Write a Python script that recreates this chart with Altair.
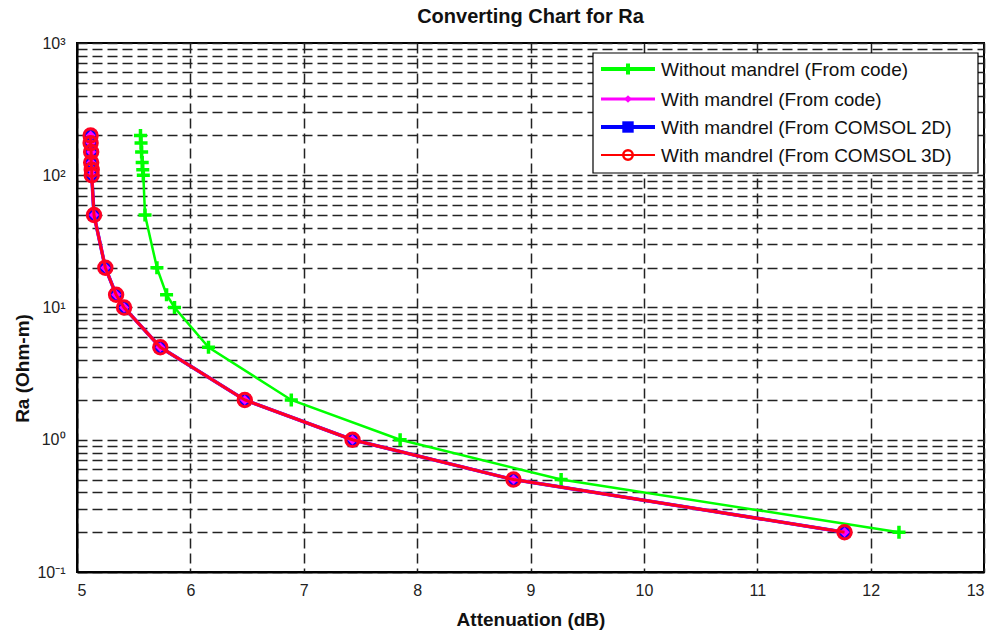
import altair as alt
import pandas as pd

# ---- data ----
ra = [200, 175, 150, 125, 110, 100, 50, 20, 12.5, 10, 5, 2, 1, 0.5, 0.2]
att_without_code = [5.56, 5.565, 5.57, 5.575, 5.58, 5.585, 5.60, 5.705, 5.79, 5.86, 6.16, 6.89, 7.85, 9.27, 12.25]
att_with_code = [5.12, 5.12, 5.125, 5.125, 5.13, 5.13, 5.15, 5.25, 5.345, 5.415, 5.735, 6.48, 7.43, 8.85, 11.77]
att_with_2d = [5.12, 5.12, 5.125, 5.125, 5.13, 5.13, 5.15, 5.25, 5.345, 5.415, 5.735, 6.48, 7.43, 8.85, 11.77]
att_with_3d = [5.12, 5.12, 5.125, 5.125, 5.13, 5.13, 5.15, 5.25, 5.345, 5.415, 5.735, 6.48, 7.43, 8.85, 11.77]

series_names = [
    "Without mandrel (From code)",
    "With mandrel (From code)",
    "With mandrel (From COMSOL 2D)",
    "With mandrel (From COMSOL 3D)",
]
x_ticks = [5, 6, 7, 8, 9, 10, 11, 12, 13]

FONT = "Liberation Sans Narrow, Liberation Sans, Arial"
W, H = 907, 529
PL, PT = 77, 43

grid_vals = sorted({round(m * d, 6) for d in [0.1, 1, 10, 100] for m in range(1, 10)} | {1000})

def frame(att):
    return pd.DataFrame({"att": att, "ra": ra, "idx": list(range(len(ra)))})

xs = alt.X("att:Q", scale=alt.Scale(domain=[5, 13], nice=False, zero=False),
           axis=alt.Axis(values=x_ticks, title="Attenuation (dB)", grid=True, ticks=False,
                         labelPadding=10, titlePadding=12, format="d"))
ys = alt.Y("ra:Q", scale=alt.Scale(type="log", domain=[0.1, 1000], nice=False),
           axis=alt.Axis(values=grid_vals, title="Ra (Ohm-m)", grid=True, ticks=False,
                         labelOverlap=False, labelPadding=12,
                         titleX=-55, titleY=325, titleAngle=270, titleAlign="center",
                         titleBaseline="middle",
                         labelExpr="datum.value==1000?'10³':datum.value==100?'10²':datum.value==10?'10¹':datum.value==1?'10⁰':datum.value==0.1?'10⁻¹':''"))

PLUS = "M-1,0H1M0,-1V1"

def series(att, color, lw, shape, size, filled, sw):
    d = frame(att)
    line = alt.Chart(d).mark_line(color=color, strokeWidth=lw).encode(x=xs, y=ys, order="idx:Q")
    pts = alt.Chart(d).mark_point(shape=shape, size=size, filled=filled, color=color,
                                  strokeWidth=sw, opacity=1).encode(x=xs, y=ys)
    return [line, pts]

layers = []
layers += series(att_without_code, "#00ff00", 2.5, PLUS, 170, False, 3.5)
layers += series(att_with_2d, "#0000ff", 3.5, "square", 130, True, 1)
layers += series(att_with_code, "#ff00ff", 3, "diamond", 100, True, 1)
layers += series(att_with_3d, "#ff0022", 3, "circle", 180, False, 3)

# ---- legend (MATLAB style box) ----
one = alt.Data(values=[{"a": 1}])
bx0, bx1, by0, by1 = 516, 901, 10, 130
layers.append(alt.Chart(one).mark_rect(fill="white", stroke="black", strokeWidth=1.2).encode(
    x=alt.value(bx0), x2=alt.value(bx1), y=alt.value(by0), y2=alt.value(by1)))

leg_style = [
    ("#00ff00", 4, PLUS, 120, False, 4),
    ("#ff00ff", 3, "diamond", 60, True, 1),
    ("#0000ff", 4, "square", 130, True, 1),
    ("#ff0000", 2, "circle", 90, False, 2.5),
]
row_y = [26, 56, 84, 112]
for name, (col, lw, shp, sz, fil, sw), yy in zip(series_names, leg_style, row_y):
    layers.append(alt.Chart(one).mark_rule(color=col, strokeWidth=lw).encode(
        x=alt.value(524), x2=alt.value(578), y=alt.value(yy)))
    layers.append(alt.Chart(one).mark_point(shape=shp, size=sz, filled=fil, color=col,
                                            strokeWidth=sw, opacity=1).encode(
        x=alt.value(551), y=alt.value(yy)))
    layers.append(alt.Chart(one).mark_text(text=name, align="left", baseline="middle",
                                           font=FONT, fontSize=19, color="#111").encode(
        x=alt.value(584), y=alt.value(yy + 1)))

chart = alt.layer(*layers).properties(
    width=W, height=H,
    background="white",
    title=alt.TitleParams("Converting Chart for Ra", font=FONT, fontSize=20, fontWeight="bold",
                          color="#111", offset=8),
    autosize=alt.AutoSizeParams(type="none"),
    padding={"left": PL, "top": PT, "right": 995 - PL - W, "bottom": 633 - PT - H},
).configure_view(stroke="black", strokeWidth=2).configure_axis(
    gridDash=[10, 5], gridColor="#222", gridWidth=1.5, gridOpacity=1,
    domainColor="black", domainWidth=2,
    labelFont=FONT, labelFontSize=16, labelColor="#222",
    titleFont=FONT, titleFontSize=19, titleFontWeight="bold", titleColor="#111",
)

chart.save("out.html", embed_options={"renderer": "svg", "actions": False})
